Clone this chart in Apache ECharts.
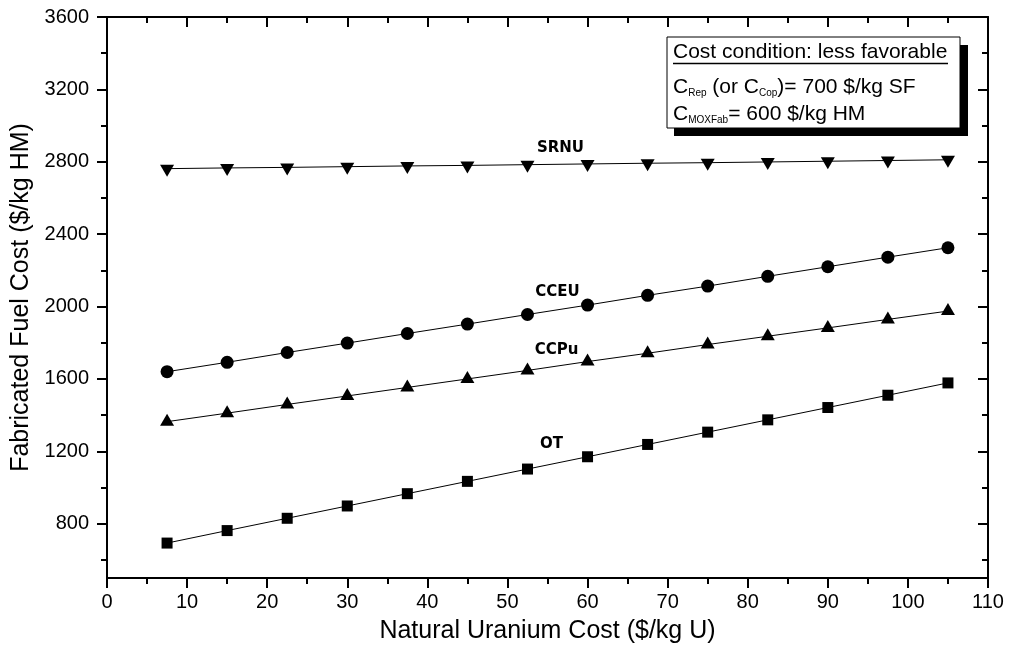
<!DOCTYPE html>
<html>
<head>
<meta charset="utf-8">
<title>Fabricated Fuel Cost vs Natural Uranium Cost</title>
<script src="https://cdn.jsdelivr.net/npm/echarts@6/dist/echarts.min.js"></script>
<style>
  html, body { margin: 0; padding: 0; background: #fff; }
  #chart { width: 1011px; height: 650px; }
</style>
</head>
<body>
<div id="chart"></div>
<script>
// Natural uranium cost ($/kg U)
const uraniumCost = [7.5, 15, 22.5, 30, 37.5, 45, 52.5, 60, 67.5, 75, 82.5, 90, 97.5, 105];

// Fabricated fuel cost ($/kg HM) per fuel cycle option
const srnu = [2762, 2766, 2769, 2773, 2777, 2780, 2784, 2788, 2792, 2795, 2799, 2803, 2807, 2811];
const cceu = [1640, 1692, 1746, 1798, 1851, 1903, 1956, 2008, 2062, 2113, 2167, 2220, 2273, 2325];
const ccpu = [1364, 1411, 1459, 1506, 1553, 1600, 1647, 1696, 1742, 1790, 1836, 1882, 1929, 1975];
const ot   = [693, 762, 830, 898, 966, 1034, 1102, 1170, 1238, 1306, 1374, 1442, 1510, 1578];

// Axis ticks
const yMajorTicks = [800, 1200, 1600, 2000, 2400, 2800, 3200, 3600];
const yMinorTicks = [600, 1000, 1400, 1800, 2200, 2600, 3000, 3400];

const FONT = 'Liberation Sans, Arial, sans-serif';
const BLACK = '#000';

// Index of the point that carries each curve's name tag
const TAG_INDEX = 6;

function buildData(values, tag, tagOffset) {
  return uraniumCost.map((x, i) => {
    const item = { value: [x, values[i]] };
    if (i === TAG_INDEX) {
      item.label = {
        show: true,
        formatter: tag,
        position: 'inside',
        offset: tagOffset,
        color: BLACK,
        fontFamily: 'DejaVu Sans, sans-serif',
        fontWeight: 'bold',
        fontSize: 15
      };
    }
    return item;
  });
}

function lineSeries(name, values, symbol, symbolSize, symbolOffset, tagOffset) {
  return {
    name: name,
    type: 'line',
    data: buildData(values, name, tagOffset),
    symbol: symbol,
    symbolSize: symbolSize,
    symbolOffset: symbolOffset,
    showAllSymbol: true,
    lineStyle: { color: BLACK, width: 1 },
    itemStyle: { color: BLACK },
    label: { show: false },
    emphasis: { disabled: true },
    animation: false,
    z: 3
  };
}

const axisLineStyle = { show: true, lineStyle: { color: BLACK, width: 2 } };
const plainNumber = v => String(v);

const chart = echarts.init(document.getElementById('chart'), null, { renderer: 'canvas' });

chart.setOption({
  backgroundColor: '#fff',
  animation: false,
  grid: { left: 107, top: 17, right: 23, bottom: 72, containLabel: false },
  xAxis: [
    {
      type: 'value', position: 'bottom', min: 0, max: 110, interval: 10,
      name: 'Natural Uranium Cost ($/kg U)', nameLocation: 'middle', nameGap: 41,
      nameTextStyle: { fontFamily: FONT, fontSize: 25, color: BLACK },
      axisLine: axisLineStyle,
      axisTick: { show: true, length: 10, lineStyle: { color: BLACK, width: 2 } },
      minorTick: { show: true, splitNumber: 2, length: 6, lineStyle: { color: BLACK, width: 2 } },
      splitLine: { show: false },
      axisLabel: { fontFamily: FONT, fontSize: 20, color: BLACK, margin: 14, formatter: plainNumber }
    },
    {
      type: 'value', position: 'top', min: 0, max: 110, interval: 10,
      axisLine: axisLineStyle,
      axisTick: { show: true, inside: true, length: 10, lineStyle: { color: BLACK, width: 2 } },
      minorTick: { show: true, splitNumber: 2, length: 6, lineStyle: { color: BLACK, width: 2 } },
      splitLine: { show: false },
      axisLabel: { show: false }
    }
  ],
  yAxis: [
    {
      type: 'value', position: 'left', min: 500, max: 3600,
      name: 'Fabricated Fuel Cost ($/kg HM)', nameLocation: 'middle', nameGap: 66,
      nameTextStyle: { fontFamily: FONT, fontSize: 25, color: BLACK },
      axisLine: axisLineStyle,
      axisTick: { show: true, length: 10, customValues: yMajorTicks, lineStyle: { color: BLACK, width: 2 } },
      splitLine: { show: false },
      axisLabel: { fontFamily: FONT, fontSize: 20, color: BLACK, margin: 18, customValues: yMajorTicks, formatter: plainNumber }
    },
    {
      type: 'value', position: 'left', min: 500, max: 3600,
      axisLine: { show: false },
      axisTick: { show: true, length: 6, customValues: yMinorTicks, lineStyle: { color: BLACK, width: 2 } },
      splitLine: { show: false },
      axisLabel: { show: false, customValues: yMinorTicks }
    },
    {
      type: 'value', position: 'right', min: 500, max: 3600,
      axisLine: axisLineStyle,
      axisTick: { show: true, inside: true, length: 10, customValues: yMajorTicks, lineStyle: { color: BLACK, width: 2 } },
      splitLine: { show: false },
      axisLabel: { show: false, customValues: yMajorTicks }
    },
    {
      type: 'value', position: 'right', min: 500, max: 3600,
      axisLine: { show: false },
      axisTick: { show: true, inside: true, length: 6, customValues: yMinorTicks, lineStyle: { color: BLACK, width: 2 } },
      splitLine: { show: false },
      axisLabel: { show: false, customValues: yMinorTicks }
    }
  ],
  series: [
    lineSeries('SRNU', srnu, 'path://M0,0L2,0L1,2Z', [14, 12], [0, 2], [33, -19]),
    lineSeries('CCEU', cceu, 'circle', 13, [0, 0], [30, -22]),
    lineSeries('CCPu', ccpu, 'triangle', [14, 12], [0, -2], [29, -18]),
    lineSeries('OT', ot, 'rect', 11, [0, 0], [24, -25])
  ],
  graphic: [
    {
      type: 'group',
      z: 100,
      children: [
        { type: 'rect', shape: { x: 674, y: 45, width: 294, height: 91 }, style: { fill: BLACK } },
        { type: 'rect', shape: { x: 667, y: 37, width: 293, height: 91 }, style: { fill: '#fff', stroke: BLACK, lineWidth: 1 } },
        {
          type: 'text', x: 673, y: 52,
          style: { text: 'Cost condition: less favorable', font: '21px ' + FONT, fill: BLACK, verticalAlign: 'middle', align: 'left' }
        },
        { type: 'line', shape: { x1: 673, y1: 63.5, x2: 948, y2: 63.5 }, style: { stroke: BLACK, lineWidth: 1.3 } },
        {
          type: 'text', x: 673, y: 87,
          style: {
            text: '{m|C}{s|Rep}{m| (or C}{s|Cop}{m|)= 700 $/kg SF}',
            verticalAlign: 'middle', align: 'left',
            rich: {
              m: { fontFamily: FONT, fontSize: 21, lineHeight: 22, color: BLACK },
              s: { fontFamily: FONT, fontSize: 10, lineHeight: 8, color: BLACK, verticalAlign: 'bottom' }
            }
          }
        },
        {
          type: 'text', x: 673, y: 114,
          style: {
            text: '{m|C}{s|MOXFab}{m|= 600 $/kg HM}',
            verticalAlign: 'middle', align: 'left',
            rich: {
              m: { fontFamily: FONT, fontSize: 21, lineHeight: 22, color: BLACK },
              s: { fontFamily: FONT, fontSize: 10, lineHeight: 8, color: BLACK, verticalAlign: 'bottom' }
            }
          }
        }
      ]
    }
  ]
});
</script>
</body>
</html>
